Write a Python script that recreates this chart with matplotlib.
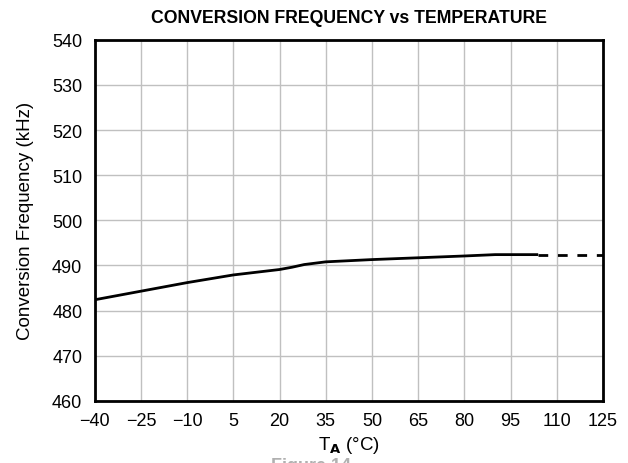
import matplotlib
matplotlib.use("Agg")
import matplotlib.pyplot as plt

plt.rcParams['font.family'] = ['Liberation Sans', 'DejaVu Sans']

# measured curve (solid part)
temp = [-40, -25, -10, 5, 20, 24, 28, 35, 50, 65, 80, 90, 95, 104]
freq = [482.4, 484.3, 486.2, 487.9, 489.1, 489.6, 490.2, 490.8, 491.3, 491.7, 492.1, 492.4, 492.4, 492.4]
# extrapolated (dashed part)
temp_ext = [104, 125]
freq_ext = [492.4, 492.4]

xticks = list(range(-40, 126, 15))
xticklabels = [("\u2212%d" % -t) if t < 0 else str(t) for t in xticks]
yticks = list(range(460, 541, 10))

fig = plt.figure(figsize=(6.28, 4.64), dpi=100)
axes = fig.add_axes([0.151, 0.134, 0.809, 0.778])

axes.plot(temp, freq, color='black', linewidth=2.0, solid_capstyle='butt')
axes.plot(temp_ext, freq_ext, color='black', linewidth=2.0, linestyle=(0, (3.5, 3.5)))

axes.set_xlim(-40, 125)
axes.set_ylim(460, 540)
axes.set_xticks(xticks)
axes.set_xticklabels(xticklabels)
axes.set_yticks(yticks)
axes.grid(True, color='#c0c0c0', linewidth=1.0)
axes.set_axisbelow(True)
axes.tick_params(length=0, labelsize=13)
axes.tick_params(axis='y', pad=9)
axes.tick_params(axis='x', pad=8)
for s in axes.spines.values():
    s.set_linewidth(2.0)

axes.set_title("CONVERSION FREQUENCY vs TEMPERATURE", fontsize=12.7, fontweight='bold', pad=13)
axes.set_ylabel("Conversion Frequency (kHz)", fontsize=13.5, labelpad=13)
axes.set_xlabel("T$_\\mathbf{A}$ (\u00b0C)", fontsize=13.5, labelpad=4)

fig.text(0.5, -0.006, "Figure 14.", ha='center', va='center', fontsize=13,
         fontweight='bold', color='#b0b0b0')

fig.savefig("out.png", dpi=100)
